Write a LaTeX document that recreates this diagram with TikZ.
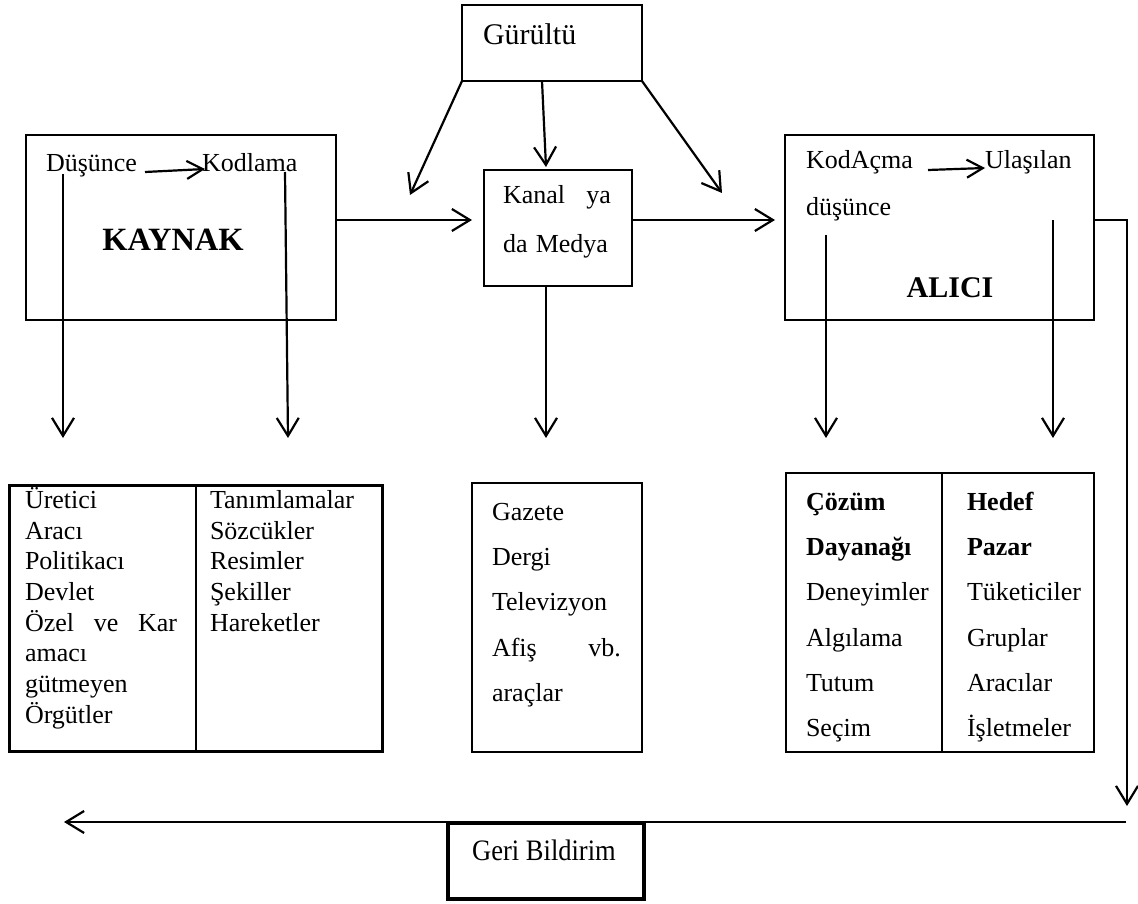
\documentclass[tikz,border=0pt]{standalone}
\usepackage{fontspec}
\setmainfont{Liberation Serif}
\usetikzlibrary{arrows.meta}
\begin{document}
\begin{tikzpicture}[x=1pt,y=-1pt,
  every node/.style={inner sep=0pt, outer sep=0pt},
  box/.style={draw, line width=1.2pt},
  txt/.style={anchor=base west, font=\fontsize{26}{30}\selectfont},
  btxt/.style={anchor=base west, font=\fontsize{26}{30}\selectfont\bfseries},
  ttl/.style={anchor=base, font=\fontsize{30}{34}\selectfont\bfseries},
  arr/.style={line width=2.2pt, -{Straight Barb[length=18pt,width=22pt,line width=2.2pt]}},
  sarr/.style={line width=2.2pt, -{Straight Barb[length=16pt,width=18pt,line width=2.2pt]}}]
\useasboundingbox (0,0) rectangle (1138,904);
\fill[white] (0,0) rectangle (1138,904);

% main boxes
\node[box, minimum width=180pt, minimum height=76pt] (gur) at (552,43) {};
\node[box, minimum width=310pt, minimum height=185pt] (kaynak) at (181,227.5) {};
\node[box, minimum width=148pt, minimum height=116pt] (kanal) at (558,228) {};
\node[box, minimum width=309pt, minimum height=185pt] (alici) at (939.5,227.5) {};

% texts in top boxes
\node[anchor=base west, font=\fontsize{30}{34}\selectfont] (gurt) at (483,45) {Gürültü};
\node[txt] (dus) at (46,172) {Düşünce};
\node[txt] (kod) at (202,172) {Kodlama};
\node[ttl, font=\fontsize{32.5}{36}\selectfont\bfseries] (kay) at (173,251) {KAYNAK};
\node[txt] (kan1) at (503,204) {\makebox[108pt][s]{Kanal ya}};
\node[txt] (kan2) at (503,252) {\makebox[105pt][s]{da Medya}};
\node[txt] (koda) at (806,169) {KodAçma};
\node[txt] (ula) at (985,169) {Ulaşılan};
\node[txt] (dus2) at (806,216) {düşünce};
\node[ttl] (ali) at (950,297) {ALICI};

% lower boxes
\node[draw, line width=3pt, minimum width=373pt, minimum height=266pt] (ltab) at (195.5,618) {};
\draw[line width=2pt] (ltab.north) -- (ltab.south);
\node[box, minimum width=170pt, minimum height=269pt] (mbox) at (557,617.5) {};
\node[draw, line width=1.6pt, minimum width=308pt, minimum height=279pt] (rtab) at (940,612.5) {};
\draw[line width=1.6pt] ([xshift=2pt]rtab.north) -- ([xshift=2pt]rtab.south);

% left table text
\node[txt] (l1) at (25,508) {Üretici};
\node[txt] (l2) at (25,539) {Aracı};
\node[txt] (l3) at (25,569) {Politikacı};
\node[txt] (l4) at (25,600) {Devlet};
\node[txt] (l5) at (25,631) {\makebox[152pt][s]{Özel ve Kar}};
\node[txt] (l6) at (25,661) {amacı};
\node[txt] (l7) at (25,692) {gütmeyen};
\node[txt] (l8) at (25,723) {Örgütler};
\node[txt] (r1) at (210,508) {Tanımlamalar};
\node[txt] (r2) at (210,539) {Sözcükler};
\node[txt] (r3) at (210,569) {Resimler};
\node[txt] (r4) at (210,600) {Şekiller};
\node[txt] (r5) at (210,631) {Hareketler};

% middle box text
\node[txt] (m1) at (492,520) {Gazete};
\node[txt] (m2) at (492,565) {Dergi};
\node[txt] (m3) at (492,610) {Televizyon};
\node[txt] (m4) at (492,656) {\makebox[129pt][s]{Afiş vb.}};
\node[txt] (m5) at (492,701) {araçlar};

% right table text
\node[btxt] (a1) at (806,510) {Çözüm};
\node[btxt] (a2) at (806,555) {Dayanağı};
\node[txt] (a3) at (806,600) {Deneyimler};
\node[txt] (a4) at (806,646) {Algılama};
\node[txt] (a5) at (806,691) {Tutum};
\node[txt] (a6) at (806,736) {Seçim};
\node[btxt] (b1) at (967,510) {Hedef};
\node[btxt] (b2) at (967,555) {Pazar};
\node[txt] (b3) at (967,600) {Tüketiciler};
\node[txt] (b4) at (967,646) {Gruplar};
\node[txt] (b5) at (967,691) {Aracılar};
\node[txt] (b6) at (967,736) {İşletmeler};

% coordinates for free ends
\coordinate (n1) at (410,195);
\coordinate (n2) at (546,167);
\coordinate (n3) at (722,193);
\coordinate (s1a) at (145,172);
\coordinate (s1b) at (205,169);
\coordinate (s2a) at (928,170);
\coordinate (s2b) at (985,168);
\coordinate (v1a) at (63,174);
\coordinate (v1b) at (63,438);
\coordinate (v2a) at (285,172);
\coordinate (v2b) at (288,438);
\coordinate (v3b) at (546,438);
\coordinate (v4a) at (826,235);
\coordinate (v4b) at (826,438);
\coordinate (v5a) at (1053,220);
\coordinate (v5b) at (1053,438);
\coordinate (rd) at (1127,806);
\coordinate (fbr) at (1126,822);
\coordinate (fbl) at (64,822);

% noise arrows
\draw[arr] (gur.south west) -- (n1);
\draw[arr] ([xshift=-10pt]gur.south) -- (n2);
\draw[arr] (gur.south east) -- (n3);

% inner arrows
\draw[sarr] (s1a) -- (s1b);
\draw[sarr] (s2a) -- (s2b);

% main flow
\draw[arr] ([yshift=7.5pt]kaynak.east) -- ([xshift=-12pt,yshift=8pt]kanal.west);
\draw[arr] ([yshift=8pt]kanal.east) -- ([xshift=-10pt,yshift=7.5pt]alici.west);

% vertical arrows
\draw[arr] (v1a) -- (v1b);
\draw[arr] (v2a) -- (v2b);
\draw[arr] ([xshift=-12pt]kanal.south) -- (v3b);
\draw[arr] (v4a) -- (v4b);
\draw[arr] (v5a) -- (v5b);

% feedback
\draw[arr] ([yshift=7.5pt]alici.east) -| (rd);
\draw[arr, line width=2.5pt] (fbr) -- (fbl);
\node[draw, line width=4.5pt, fill=white, minimum width=196pt, minimum height=76pt] (geri) at (546,861) {};
\node[anchor=base, font=\fontsize{26.5}{30}\selectfont] (gerit) at (544,860) {\scalebox{1}[1.12]{Geri Bildirim}};
\end{tikzpicture}
\end{document}
